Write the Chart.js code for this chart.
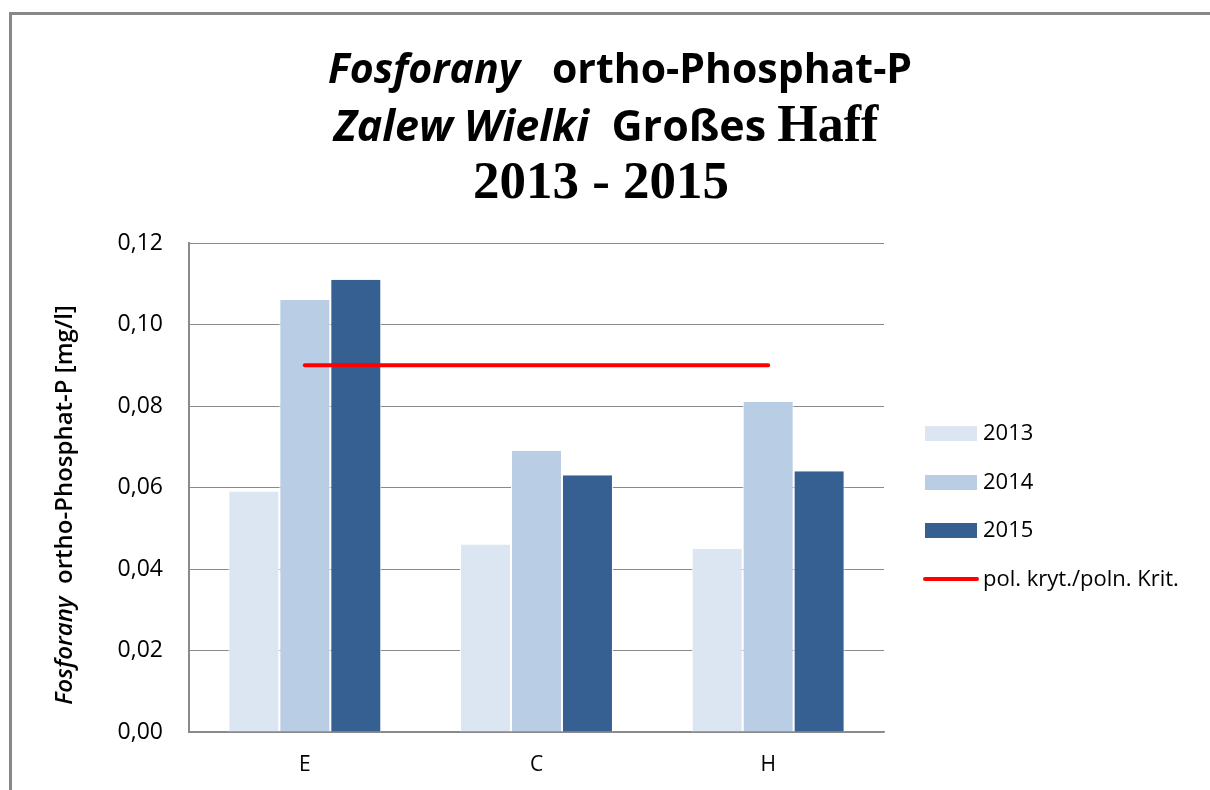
<!DOCTYPE html>
<html lang="pl">
<head>
  <meta charset="UTF-8">
  <title>Fosforany ortho-Phosphat-P Zalew Wielki 2013 - 2015</title>
  <script src="https://cdn.jsdelivr.net/npm/chart.js"></script>
  <style>
    body { margin: 0; background: #fff; }
    canvas { display: block; }
  </style>
</head>
<body>
  <canvas id="phosphateChart" width="1210" height="790"></canvas>

  <script>
    // data
    const categories = ['E', 'C', 'H'];
    const years = ['2013', '2014', '2015'];
    const values2013 = [0.059, 0.046, 0.045];
    const values2014 = [0.106, 0.069, 0.081];
    const values2015 = [0.111, 0.063, 0.064];
    const criterionLabel = 'pol. kryt./poln. Krit.';
    const criterionValues = [0.09, 0.09, 0.09];
    const yMax = 0.12;
    const yStep = 0.02;

    const titleLines = [
      [['Fosforany', 'italic1'], ['   ortho-Phosphat-P', 'sans1']],
      [['Zalew Wielki', 'italic2'], ['  Großes ', 'sans2'], ['Haff', 'serifSmall']],
      [['2013 - 2015', 'serif']]
    ];
    const yTitle = [['Fosforany', 'italic'], ['  ortho-Phosphat-P [mg/l]', 'sans']];

    const barColors = ['#dce6f2', '#b9cde5', '#376092'];
    const gridColor = '#8a8a8a';

    const titleFonts = {
      italic1: 'italic bold 41px "Open Sans"',
      sans1: 'bold 41px "Open Sans"',
      italic2: 'italic bold 43px "Open Sans"',
      sans2: 'bold 43px "Open Sans"',
      serifSmall: 'bold 52px "Liberation Serif"',
      serif: 'bold 53px "Liberation Serif"'
    };
    const yTitleFonts = {
      italic: 'italic 600 24px "Open Sans"',
      sans: '600 24px "Open Sans"'
    };

    function drawSegments(ctx, segs, fonts, cx, baseline) {
      let total = 0;
      const widths = segs.map(([text, kind]) => {
        ctx.font = fonts[kind];
        const w = ctx.measureText(text).width;
        total += w;
        return w;
      });
      let x = cx - total / 2;
      ctx.textAlign = 'left';
      ctx.textBaseline = 'alphabetic';
      segs.forEach(([text, kind], i) => {
        ctx.font = fonts[kind];
        ctx.fillText(text, x, baseline);
        x += widths[i];
      });
    }

    const decorPlugin = {
      id: 'decor',
      beforeDraw(chart) {
        const ctx = chart.ctx;
        ctx.save();
        ctx.fillStyle = '#fff';
        ctx.fillRect(0, 0, chart.width, chart.height);
        // outer frame (left and top visible)
        ctx.strokeStyle = '#888';
        ctx.lineWidth = 3;
        ctx.beginPath();
        ctx.moveTo(10.5, chart.height);
        ctx.lineTo(10.5, 13.5);
        ctx.lineTo(chart.width, 13.5);
        ctx.stroke();
        ctx.restore();
      },
      afterDraw(chart) {
        const ctx = chart.ctx;
        ctx.save();
        ctx.fillStyle = '#000';
        // title
        const centers = [620, 606, 601];
        const baselines = [83, 141, 198];
        titleLines.forEach((line, i) => drawSegments(ctx, line, titleFonts, centers[i], baselines[i]));

        // y axis title
        ctx.translate(72, 505);
        ctx.rotate(-Math.PI / 2);
        drawSegments(ctx, yTitle, yTitleFonts, 0, 0);
        ctx.restore();

        // legend
        ctx.save();
        const rows = [433, 482, 530, 579];
        const boxX = 925, boxW = 52, textX = 983;
        ctx.font = '22px "Open Sans"';
        ctx.textAlign = 'left';
        ctx.textBaseline = 'middle';
        chart.data.datasets.forEach((ds, i) => {
          const y = rows[i];
          if (ds.type === 'line') {
            ctx.strokeStyle = ds.borderColor;
            ctx.lineWidth = 4;
            ctx.lineCap = 'round';
            ctx.beginPath();
            ctx.moveTo(boxX, y);
            ctx.lineTo(boxX + boxW, y);
            ctx.stroke();
          } else {
            ctx.fillStyle = ds.backgroundColor;
            ctx.fillRect(boxX, y - 7, boxW, 15);
          }
          ctx.fillStyle = '#000';
          ctx.fillText(ds.label, textX, y + 1);
        });
        ctx.restore();
      }
    };

    const ctx = document.getElementById('phosphateChart').getContext('2d');

    new Chart(ctx, {
      type: 'bar',
      data: {
        labels: categories,
        datasets: [
          { label: years[0], data: values2013, backgroundColor: barColors[0] },
          { label: years[1], data: values2014, backgroundColor: barColors[1] },
          { label: years[2], data: values2015, backgroundColor: barColors[2] },
          {
            type: 'line',
            label: criterionLabel,
            data: criterionValues,
            borderColor: '#ff0000',
            borderWidth: 4,
            borderCapStyle: 'round',
            pointRadius: 0,
            order: 0
          }
        ].map((ds, i) => i < 3 ? Object.assign(ds, {
          borderColor: '#fff',
          borderWidth: { left: 1, right: 1, top: 0, bottom: 0 },
          categoryPercentage: 0.66,
          barPercentage: 1.0,
          order: 1
        }) : ds)
      },
      options: {
        responsive: false,
        animation: false,
        layout: { padding: { top: 243, right: 326, bottom: 0, left: 0 } },
        plugins: {
          legend: { display: false },
          title: { display: false },
          tooltip: { enabled: false }
        },
        scales: {
          x: {
            afterFit(scale) { scale.height = 58; },
            grid: { display: false, drawTicks: false },
            border: { display: true, color: gridColor, width: 1.5 },
            ticks: {
              padding: 20,
              color: '#000',
              font: { family: '"Open Sans"', size: 21 }
            }
          },
          y: {
            min: 0,
            max: yMax,
            afterFit(scale) { scale.width = 189; },
            grid: { color: gridColor, lineWidth: 1, drawTicks: false },
            border: { display: true, color: gridColor, width: 2 },
            ticks: {
              stepSize: yStep,
              padding: 26,
              color: '#000',
              font: { family: '"Open Sans"', size: 23 },
              callback: value => value.toFixed(2).replace('.', ',')
            }
          }
        }
      },
      plugins: [decorPlugin]
    });
  </script>
</body>
</html>
